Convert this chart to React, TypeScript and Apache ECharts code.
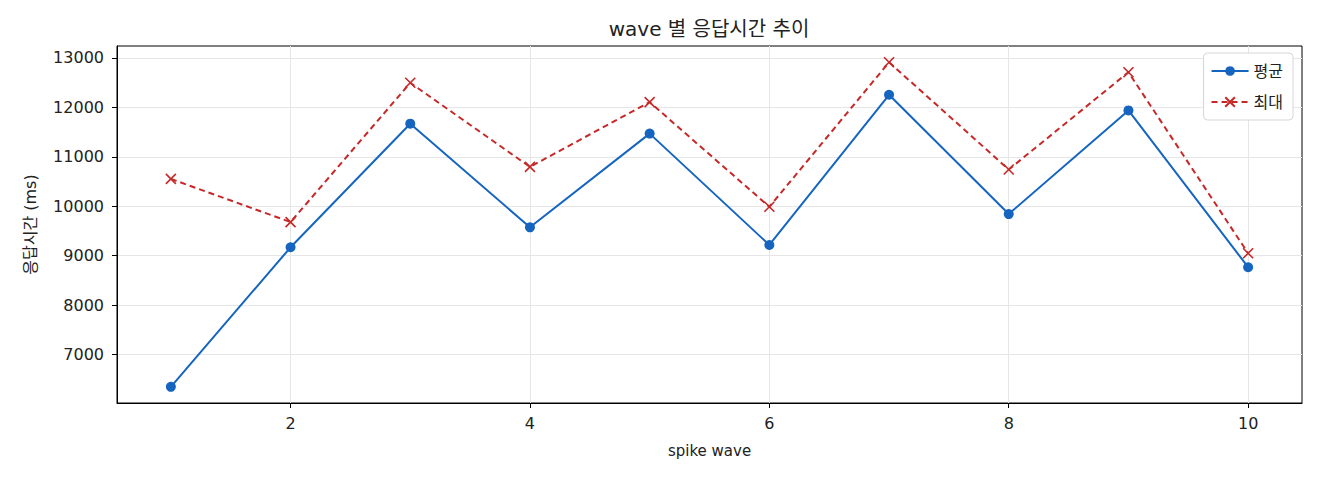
import React, { useRef, useEffect } from 'react';
import * as echarts from 'echarts';

// spike wave 번호별 평균 / 최대 응답시간 (ms)
const waves = [1, 2, 3, 4, 5, 6, 7, 8, 9, 10];
const avgMs = [6347, 9169, 11669, 9573, 11468, 9216, 12254, 9841, 11937, 8766];
const maxMs = [10552, 9679, 12496, 10795, 12105, 9988, 12911, 10742, 12710, 9048];
const xTicks = [2, 4, 6, 8, 10];
const yTicks = [7000, 8000, 9000, 10000, 11000, 12000, 13000];

const FONT = '"DejaVu Sans", "Noto Sans CJK KR", sans-serif';
const BLUE = '#1565c0';
const RED = '#c62828';

export default function App() {
  const chartRef = useRef<HTMLDivElement>(null);

  useEffect(() => {
    if (!chartRef.current) return;
    document.body.style.margin = '0';
    const chart = echarts.init(chartRef.current, undefined, { renderer: 'svg' });

    const option: echarts.EChartsOption = {
      animation: false,
      textStyle: { fontFamily: FONT, color: '#222' },
      // title centred over the plot area, not the page
      graphic: [
        {
          type: 'text',
          x: 709,
          y: 29,
          style: {
            text: 'wave 별 응답시간 추이',
            font: `20px ${FONT}`,
            fill: '#222',
            align: 'center',
            verticalAlign: 'middle'
          }
        }
      ],
      legend: {
        orient: 'vertical',
        right: 27,
        top: 53,
        itemWidth: 37,
        itemHeight: 12,
        itemGap: 15,
        padding: [10, 10, 10, 7],
        borderColor: '#d6d6d6',
        borderWidth: 1,
        borderRadius: 4,
        backgroundColor: '#fff',
        textStyle: { fontFamily: FONT, fontSize: 16, color: '#222' },
        data: ['평균', '최대']
      },
      grid: {
        left: 117,
        right: 18,
        top: 46,
        bottom: 77,
        show: true,
        borderColor: '#000',
        borderWidth: 1,
        outerBoundsMode: 'none'
      } as any,
      xAxis: {
        type: 'value',
        min: 0.55,
        max: 10.45,
        name: 'spike wave',
        nameLocation: 'middle',
        nameGap: 40,
        nameTextStyle: { fontFamily: FONT, fontSize: 15, color: '#222' },
        axisLine: { show: true, lineStyle: { color: '#000', width: 1 } },
        axisTick: { show: true, length: 5, lineStyle: { color: '#000' }, customValues: xTicks } as any,
        axisLabel: { margin: 12, fontSize: 16, color: '#222', fontFamily: FONT, customValues: xTicks } as any,
        splitLine: { show: true, lineStyle: { color: '#e6e6e6', width: 1 } }
      },
      yAxis: {
        type: 'value',
        min: 6020,
        max: 13240,
        name: '응답시간 (ms)',
        nameLocation: 'middle',
        nameGap: 79,
        nameTextStyle: { fontFamily: FONT, fontSize: 16, color: '#222' },
        axisLine: { show: true, lineStyle: { color: '#000', width: 1 } },
        axisTick: { show: true, length: 5, lineStyle: { color: '#000' }, customValues: yTicks } as any,
        axisLabel: {
          margin: 13,
          fontSize: 16,
          color: '#222',
          fontFamily: FONT,
          customValues: yTicks,
          formatter: (v: number) => String(v)
        } as any,
        splitLine: { show: true, lineStyle: { color: '#e6e6e6', width: 1 } }
      },
      series: [
        {
          name: '평균',
          type: 'line',
          data: waves.map((w, i) => [w, avgMs[i]]),
          symbol: 'circle',
          symbolSize: 10,
          lineStyle: { color: BLUE, width: 2 },
          itemStyle: { color: BLUE },
          z: 3
        },
        {
          name: '최대',
          type: 'line',
          data: waves.map((w, i) => [w, maxMs[i]]),
          symbol: 'path://M0,0L10,10M10,0L0,10',
          symbolSize: 10,
          lineStyle: { color: RED, width: 2, type: [6, 4] },
          itemStyle: { color: 'none', borderColor: RED, borderWidth: 1.6 },
          z: 2
        }
      ]
    };

    chart.setOption(option);
    return () => {
      chart.dispose();
    };
  }, []);

  return <div ref={chartRef} style={{ width: '1320px', height: '480px' }} />;
}
